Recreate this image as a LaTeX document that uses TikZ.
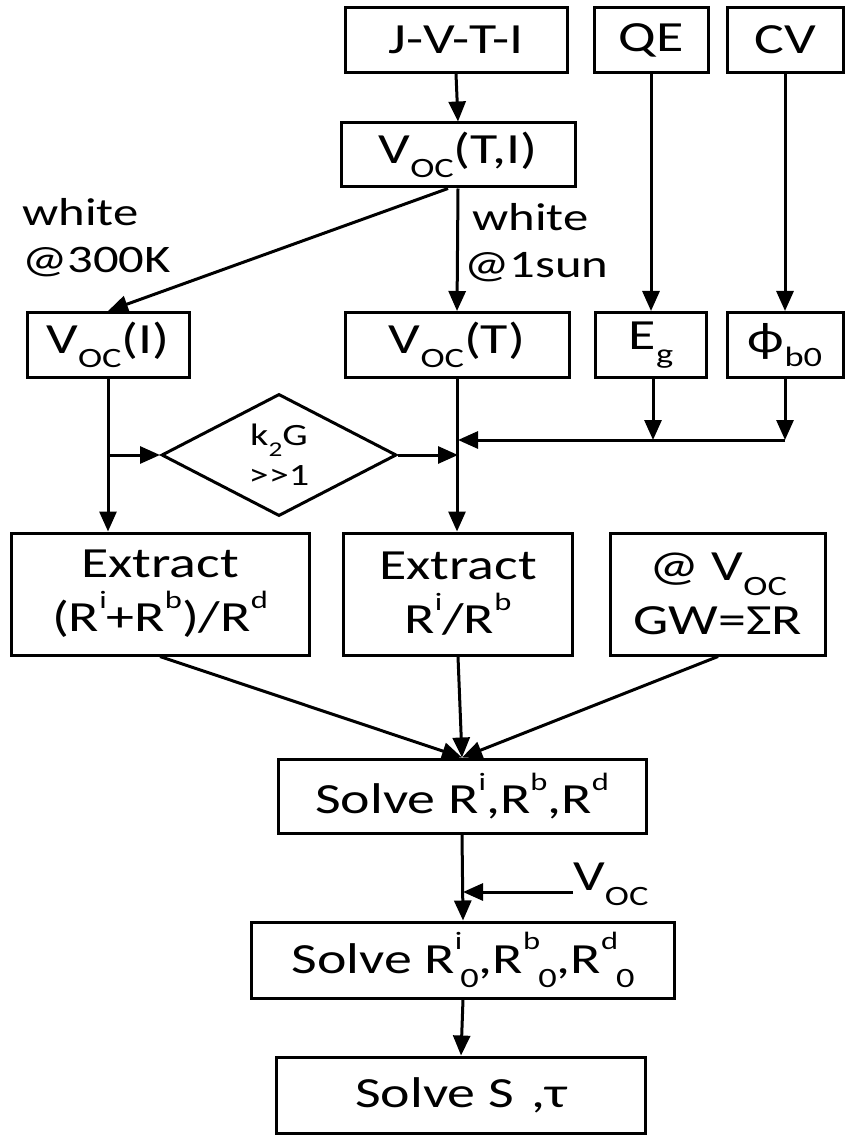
\documentclass[tikz,border=0pt]{standalone}
\usepackage{fontspec}
\setmainfont[FakeStretch=1.3]{Carlito}
\usetikzlibrary{arrows.meta,shapes.geometric,calc}
\newcommand\lo[1]{\raisebox{-0.34em}{\fontsize{28}{30}\selectfont #1}}
\newcommand\hi[1]{\raisebox{0.55em}{\fontsize{25}{28}\selectfont #1}}
\begin{document}
\begin{tikzpicture}[x=1pt,y=-1pt,
  box/.style={draw,line width=3pt,inner sep=0pt,align=center,font=\fontsize{43}{54}\selectfont},
  lab/.style={inner sep=0pt,align=left,font=\fontsize{39}{47}\selectfont},
  arr/.style={line width=3pt,-{Triangle[length=20pt,width=17pt]}},
  ln/.style={line width=3pt}]
\useasboundingbox (0,0) rectangle (846,1139);
% top row
\node[box,minimum width=222,minimum height=65] (jvti) at (456,40) {J-V-T-I};
\node[box,minimum width=114,minimum height=65] (qe) at (651,40) {QE};
\node[box,minimum width=116,minimum height=65] (cv) at (785,40) {CV};
\node[box,minimum width=234,minimum height=64] (vti) at (458,155) {V\lo{OC}(T,I)};
% third row
\node[box,minimum width=162,minimum height=65] (vi) at (108,345) {V\lo{OC}(I)};
\node[box,minimum width=224,minimum height=65] (vt) at (457,345) {V\lo{OC}(T)};
\node[box,minimum width=111,minimum height=65] (eg) at (651,345) {E\lo{g}};
\node[box,minimum width=116,minimum height=65] (phi) at (785,345) {ϕ\lo{b0}};
% labels
\node[lab,anchor=north west] (w1) at (22,198) {white\\@300K};
\node[lab,anchor=north west] (w2) at (464,203) {\hspace*{8pt}white\\@1sun};
% diamond
\node[draw,diamond,line width=3pt,inner sep=0pt,minimum width=235,minimum height=115,align=center,font=\fontsize{31}{40}\selectfont] (dia) at (279,455) {k\lo{\fontsize{21}{22}\selectfont 2}G\\>{}>1};
% extract row
\node[box,minimum width=298,minimum height=122] (ex1) at (160,594) {Extract\\(R\hi{i}+R\hi{b})/R\hi{d}};
\node[box,minimum width=229,minimum height=122] (ex2) at (458,594) {Extract\\R\hi{i}/R\hi{b}};
\node[box,minimum width=215,minimum height=122] (ex3) at (718,594) {@ V\lo{OC}\\GW=ΣR};
% solve boxes
\node[box,minimum width=368,minimum height=74] (sr) at (462,796) {Solve R\hi{i},R\hi{b},R\hi{d}};
\node[box,minimum width=423,minimum height=76] (sr0) at (463,960) {Solve R\hi{i}\kern-2pt\lo{0},R\hi{b}\kern-2pt\lo{0},R\hi{d}\kern-2pt\lo{0}};
\node[box,minimum width=369,minimum height=76] (ss) at (461,1095) {Solve S\hspace{0.4em},τ};
\node[lab,anchor=west,font=\fontsize{43}{50}\selectfont] (voc) at (573,884) {V\lo{OC}};
% coordinates
\coordinate (d1) at ($(vti.south)+(-10,0)$);
\coordinate (m1) at (458,455);
\coordinate (m2) at (458,440);
\coordinate (e1) at (653,440);
\coordinate (p1) at (785,440);
\coordinate (b1) at (108,455);
\coordinate (v1) at (463,892);
% connectors
\draw[arr] (jvti.south) -- (vti.north);
\draw[arr] (d1) -- (vi.north);
\draw[arr] (vti.south) -- (vt.north);
\draw[arr] (qe.south) -- (eg.north);
\draw[arr] (cv.south) -- (phi.north);
\draw[arr] (vi.south) -- (vi.south |- ex1.north);
\draw[arr] (b1) -- (dia.west);
\draw[arr] (dia.east) -- (m1);
\draw[arr] (vt.south) -- (vt.south |- ex2.north);
\draw[arr] (eg.south -| e1) -- (e1);
\draw[arr] (phi.south) -- (p1);
\draw[arr] (p1) -- (m2);
\draw[arr] (ex1.south) -- (sr.north);
\draw[arr] (ex2.south) -- (sr.north);
\draw[arr] (ex3.south) -- (sr.north);
\draw[arr] (sr.south) -- (sr0.north);
\draw[arr] (voc.west |- v1) -- (v1);
\draw[arr] (sr0.south) -- (ss.north);
\end{tikzpicture}
\end{document}
